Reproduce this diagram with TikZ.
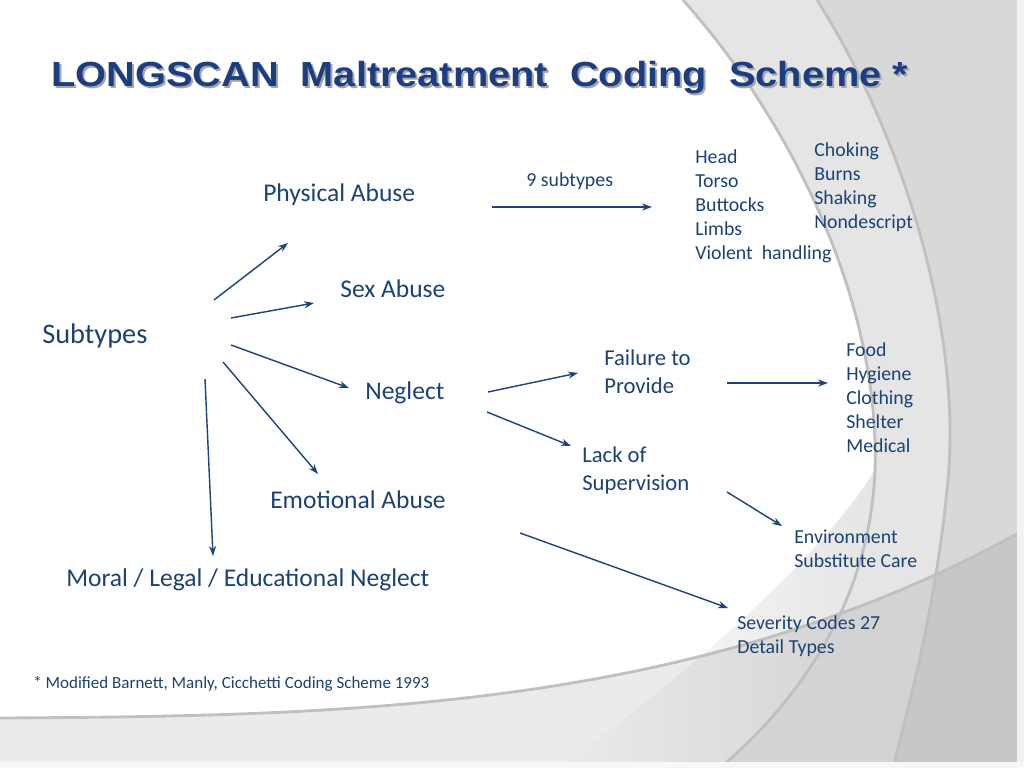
\documentclass[tikz,border=0pt]{standalone}
\usepackage{fontspec}
\setmainfont{Carlito}
\newfontfamily\titlefont[FakeStretch=1.14]{Liberation Sans}
\usetikzlibrary{positioning}
\usetikzlibrary{arrows.meta}

\definecolor{TitleBlue}{RGB}{28,62,128}
\definecolor{TextBlue}{RGB}{28,66,116}
\definecolor{ArrowBlue}{RGB}{30,68,122}
\definecolor{SwooshA}{RGB}{229,229,229}
\definecolor{SwooshB}{RGB}{216,216,216}
\definecolor{SwooshLine}{RGB}{192,192,192}

\begin{document}
\begin{tikzpicture}
          [
          x=0.0248cm, y=-0.0248cm,
          TitleText/.style={anchor=base west, inner sep=0, font=\titlefont\bfseries\fontsize{24.6}{30}\selectfont},
          Big/.style={anchor=base west, inner sep=0, text=TextBlue, font=\fontsize{18}{22}\selectfont},
          Mid/.style={anchor=base west, inner sep=0, text=TextBlue, align=left, font=\fontsize{16}{19.5}\selectfont},
          Small/.style={anchor=base west, inner sep=0, text=TextBlue, align=left, font=\fontsize{14}{16.9}\selectfont},
          Line/.style={draw=ArrowBlue, line width=1pt, -{Stealth[length=7pt, width=5pt]}},
          Edge/.style={draw=SwooshLine, line width=2pt},
          ]
          \useasboundingbox (0,0) rectangle (1024,768);

          % Background
          \fill[white] (0,0) rectangle (1024,768);
          \fill[SwooshA] (683,0) .. controls (790,120) and (880,300) .. (875,470)
                .. controls (870,600) and (800,700) .. (720,768) -- (1024,768) -- (1024,0) -- cycle;
          \shade[left color=white, right color=SwooshA] (875,470) .. controls (870,600) and (800,700) .. (720,768)
                -- (560,768) .. controls (680,680) and (820,560) .. (875,470) -- cycle;
          \fill[SwooshB] (817,0) .. controls (900,130) and (965,330) .. (947,490)
                .. controls (935,610) and (910,700) .. (893,768) -- (1024,768) -- (1024,0) -- cycle;
          \fill[black, fill opacity=0.08] (0,718) .. controls (350,716) and (700,710) .. (1024,530)
                -- (1024,768) -- (0,768) -- cycle;
          \path[Edge] (683,0) .. controls (790,120) and (880,300) .. (875,470)
                .. controls (870,600) and (800,700) .. (720,768);
          \path[Edge] (817,0) .. controls (900,130) and (965,330) .. (947,490)
                .. controls (935,610) and (910,700) .. (893,768);
          \path[Edge] (0,718) .. controls (350,716) and (700,710) .. (1024,530);
          \fill[white!95!black] (1017,0) rectangle (1024,768);
          \fill[white!97!black] (0,762) rectangle (1024,768);

          % Nodes
          \node[TitleText, text=black!35] (TitleShadow) at (53,89) {LONGSCAN\ \ Maltreatment\ \ Coding\ \ Scheme *};
          \node[TitleText, text=TitleBlue] (Title) at (51,87) {LONGSCAN\ \ Maltreatment\ \ Coding\ \ Scheme *};

          \node[Big, font=\fontsize{20}{24}\selectfont] (Subtypes) at (42,343) {Subtypes};
          \node[Big] (Physical) at (263,201) {Physical Abuse};
          \node[Big] (Sex) at (340,297) {Sex Abuse};
          \node[Big] (Neglect) at (365,399) {Neglect};
          \node[Big] (Emotional) at (270,508) {Emotional Abuse};
          \node[Big] (Moral) at (66,586) {Moral / Legal / Educational Neglect};

          % multi-line nodes sit on their last line
          \node[Small] (NineSub) at (526,187) {9 subtypes};
          \node[Small] (BodyParts) at (695,259) {Head\\Torso\\Buttocks\\Limbs\\Violent\ \ handling};
          \node[Small] (PhysOther) at (814,228) {Choking\\Burns\\Shaking\\Nondescript};

          \node[Mid] (Failure) at (604,393) {Failure to\\Provide};
          \node[Mid] (Lack) at (582,490) {Lack of\\Supervision};
          \node[Small] (Needs) at (846,452) {Food\\Hygiene\\Clothing\\Shelter\\Medical};
          \node[Small] (Superv) at (794,567) {Environment\\Substitute Care};
          \node[Small] (Severity) at (737,653) {Severity Codes 27\\Detail Types};

          \node[anchor=base west, inner sep=0, text=TextBlue, font=\fontsize{12}{14}\selectfont] (Note) at (33,688)
                {* Modified Barnett, Manly, Cicchetti Coding Scheme 1993};

          % Arrow ends
          \coordinate (SubPhys) at (214,300);   \coordinate (PhysIn) at (288,243);
          \coordinate (SubSex) at (231,318);    \coordinate (SexIn) at (314,303);
          \coordinate (SubNeg) at (231,345);    \coordinate (NegIn) at (349,388);
          \coordinate (SubEmo) at (223,362);    \coordinate (EmoIn) at (318,474);
          \coordinate (SubMor) at (205,379);    \coordinate (MorIn) at (213,556);
          \coordinate (PhysOut) at (492,207);   \coordinate (PartsIn) at (652,207);
          \coordinate (NegOutA) at (488,392);   \coordinate (FailIn) at (578,373);
          \coordinate (NegOutB) at (487,412);   \coordinate (LackIn) at (571,446);
          \coordinate (FailOut) at (727,383);   \coordinate (NeedsIn) at (828,383);
          \coordinate (LackOut) at (727,492);   \coordinate (SupIn) at (782,526);
          \coordinate (EmoOut) at (520,533);    \coordinate (SevIn) at (728,608);

          % Lines
          \path [Line] (SubPhys) -- (PhysIn);
          \path [Line] (SubSex) -- (SexIn);
          \path [Line] (SubNeg) -- (NegIn);
          \path [Line] (SubEmo) -- (EmoIn);
          \path [Line] (SubMor) -- (MorIn);
          \path [Line] (PhysOut) -- (PartsIn);
          \path [Line] (NegOutA) -- (FailIn);
          \path [Line] (NegOutB) -- (LackIn);
          \path [Line] (FailOut) -- (NeedsIn);
          \path [Line] (LackOut) -- (SupIn);
          \path [Line] (EmoOut) -- (SevIn);

\end{tikzpicture}
\end{document}
